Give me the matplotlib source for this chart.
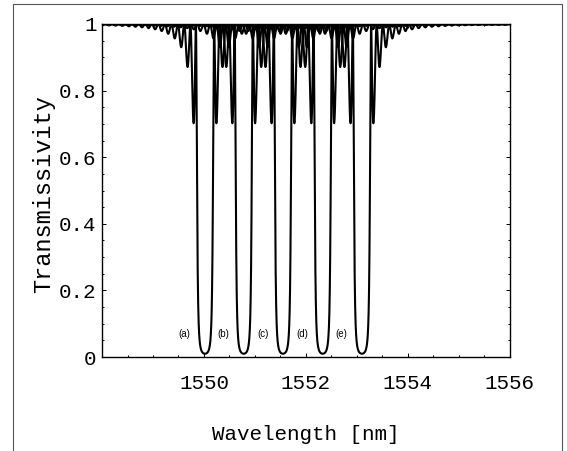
import matplotlib
matplotlib.use("Agg")
import matplotlib.pyplot as plt
import numpy as np
from matplotlib.patches import Rectangle
from matplotlib.ticker import MultipleLocator

# Bragg wavelengths of the five gratings (nm)
centers_nm = [1550.02, 1550.78, 1551.55, 1552.33, 1553.10]
curve_labels = ["(a)", "(b)", "(c)", "(d)", "(e)"]
# uniform grating parameters matching the dip width and side lobes
kappa_L = [3.0, 3.0, 3.0, 3.0, 3.0]
length_mm = [6.4, 6.4, 6.4, 6.4, 6.4]
n_eff = 1.447

x_ticks = [1550, 1552, 1554, 1556]
y_ticks = [0, 0.2, 0.4, 0.6, 0.8, 1]
y_tick_labels = ["0", "0.2", "0.4", "0.6", "0.8", "1"]

wl = np.linspace(1548.0, 1556.0, 16001)


def transmissivity(wl_nm, center, kl, length):
    """Uniform fibre Bragg grating transmission (coupled-mode theory)."""
    L = length * 1e-3
    kappa = kl / L
    delta = 2 * np.pi * n_eff * (1 / (wl_nm * 1e-9) - 1 / (center * 1e-9))
    s = np.sqrt((kappa**2 - delta**2).astype(complex))
    r = kappa**2 * np.sinh(s * L)**2 / (kappa**2 * np.cosh(s * L)**2 - delta**2)
    return 1 - np.real(r)


mono = "Liberation Mono"

fig = plt.figure(figsize=(5.67, 4.51), dpi=100)
ax = fig.add_axes([0.180, 0.2084, 0.719, 0.7384])

for c, kl, ln, lab in zip(centers_nm, kappa_L, length_mm, curve_labels):
    ax.plot(wl, transmissivity(wl, c, kl, ln), color="black", linewidth=1.5)
    ax.text(c - 0.4, 0.07, lab, ha="center", va="center", fontsize=7,
            family="Liberation Sans")

ax.set_xlim(1548, 1556)
ax.set_ylim(0, 1)
ax.set_xticks(x_ticks)
ax.set_xticklabels([str(t) for t in x_ticks], family=mono, fontsize=15)
ax.set_yticks(y_ticks)
ax.set_yticklabels(y_tick_labels, family=mono, fontsize=15)
ax.xaxis.set_minor_locator(MultipleLocator(0.5))
ax.yaxis.set_minor_locator(MultipleLocator(0.05))
ax.tick_params(which="both", direction="in", top=True, right=True, width=0.7)
ax.tick_params(which="major", length=3)
ax.tick_params(which="minor", length=1.5)
ax.tick_params(axis="x", which="major", pad=12)
ax.tick_params(axis="y", which="major", pad=4)
for sp in ax.spines.values():
    sp.set_linewidth(1.0)

ax.set_xlabel("Wavelength [nm]", family=mono, fontsize=15)
ax.set_ylabel("Transmissivity", family=mono, fontsize=17)
ax.xaxis.set_label_coords(0.5, -0.205)
ax.yaxis.set_label_coords(-0.115, 0.49)

# scanned page frame
fig.patches.append(Rectangle((13 / 567, -0.02), (562 - 13) / 567, 1 - 4 / 451 + 0.02,
                             transform=fig.transFigure, fill=False,
                             edgecolor="#555555", linewidth=0.8))

fig.savefig("out.png", dpi=100)
